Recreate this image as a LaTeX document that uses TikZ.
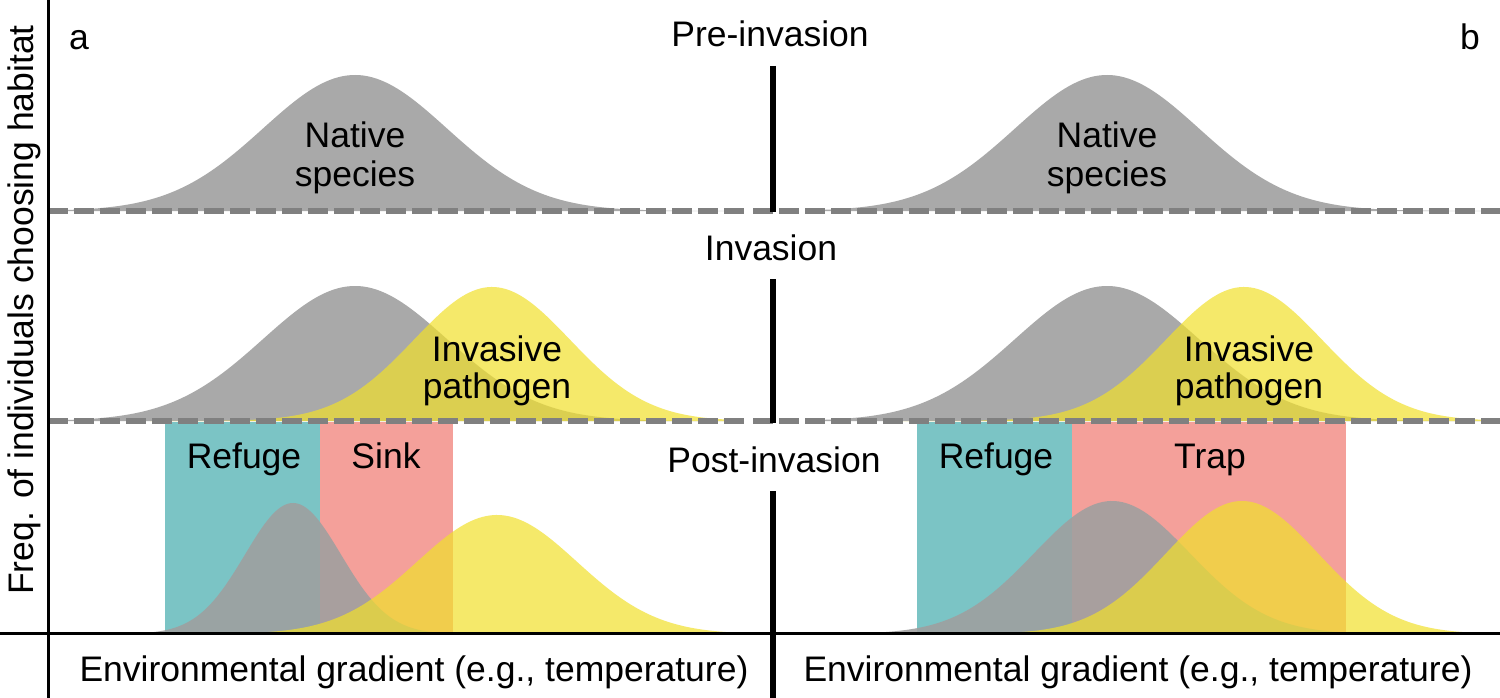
\documentclass[tikz,border=0pt]{standalone}
\usepackage{fontspec}
\setmainfont{Liberation Sans}
\definecolor{natgray}{RGB}{159,159,159}
\definecolor{invyel}{RGB}{241,224,44}
\definecolor{refteal}{RGB}{123,196,197}
\definecolor{sinkpink}{RGB}{244,160,154}
\definecolor{dashgray}{RGB}{128,128,128}
\begin{document}
\begin{tikzpicture}[x=1pt,y=-1pt,
  declare function={bell(\t,\m,\s)=exp(-0.5*((\t-\m)/\s)*((\t-\m)/\s));},
  native/.style={fill=natgray,fill opacity=0.886},
  invader/.style={fill=invyel,fill opacity=0.706},
  refugebox/.style={fill=refteal},
  sinkbox/.style={fill=sinkpink},
  stagerule/.style={draw=dashgray,line width=6pt,dash pattern=on 19.5pt off 6.5pt},
  axisline/.style={draw=black,line width=3pt},
  sepline/.style={draw=black,line width=6pt},
  lbl/.style={font=\fontsize{35.5}{40}\selectfont,anchor=base,inner sep=0pt,text=black}]
\useasboundingbox (0,0) rectangle (1500,698);
\fill[white] (0,0) rectangle (1500,698);
% ---- bottom boxes
\fill[refugebox] (165,422) rectangle (320,634);
\fill[sinkbox] (320,422) rectangle (453,634);
\fill[refugebox] (917,422) rectangle (1072,634);
\fill[sinkbox] (1072,422) rectangle (1346,634);
% ---- top panel curves
\fill[native] (60,211) -- plot[domain=60:740,samples=160] (\x,{211-136*bell(\x,355,92)}) -- (740,211) -- cycle;
\fill[native] (812,211) -- plot[domain=812:1492,samples=160] (\x,{211-136*bell(\x,1107,92)}) -- (1492,211) -- cycle;
% ---- middle panel curves
\fill[native] (60,421) -- plot[domain=60:740,samples=160] (\x,{421-135*bell(\x,355,92)}) -- (740,421) -- cycle;
\fill[invader] (150,421) -- plot[domain=150:740,samples=160] (\x,{421-134*bell(\x,492,78)}) -- (740,421) -- cycle;
\fill[native] (812,421) -- plot[domain=812:1492,samples=160] (\x,{421-135*bell(\x,1107,92)}) -- (1492,421) -- cycle;
\fill[invader] (902,421) -- plot[domain=902:1492,samples=160] (\x,{421-134*bell(\x,1244,78)}) -- (1492,421) -- cycle;
% ---- bottom panel curves
\fill[native] (110,634) -- plot[domain=110:500,samples=160] (\x,{634-131*bell(\x,293,48)}) -- (500,634) -- cycle;
\fill[invader] (180,634) -- plot[domain=180:745,samples=160] (\x,{634-119*bell(\x,497,80)}) -- (745,634) -- cycle;
\fill[native] (800,634) -- plot[domain=800:1450,samples=160] (\x,{634-133*bell(\x,1112,78)}) -- (1450,634) -- cycle;
\fill[invader] (900,634) -- plot[domain=900:1498,samples=160] (\x,{634-133*bell(\x,1242,76)}) -- (1498,634) -- cycle;
% ---- dashed stage lines
\draw[stagerule] (48,211) -- (748,211);
\draw[stagerule] (753,211) -- (1500,211);
\draw[stagerule] (48,421) -- (748,421);
\draw[stagerule] (753,421) -- (1500,421);
% ---- axes
\draw[axisline] (48,0) -- (48,698);
\draw[axisline] (0,633.5) -- (1500,633.5);
\draw[sepline] (772.5,66) -- (772.5,212);
\draw[sepline] (772.5,279) -- (772.5,423);
\draw[sepline] (772.5,491) -- (772.5,698);
% ---- texts
\node[lbl] (pa) at (79,50) {a};
\node[lbl] (pb) at (1470,50) {b};
\node[lbl] (pre) at (770,47) {Pre-invasion};
\node[lbl] (inv) at (771,260) {Invasion};
\node[lbl] (post) at (774,472) {Post-invasion};
\node[lbl] (na1) at (355,148) {Native};
\node[lbl] (na2) at (355,186) {species};
\node[lbl] (nb1) at (1107,148) {Native};
\node[lbl] (nb2) at (1107,186) {species};
\node[lbl] (ia1) at (497,361) {Invasive};
\node[lbl] (ia2) at (497,398) {pathogen};
\node[lbl] (ib1) at (1249,361) {Invasive};
\node[lbl] (ib2) at (1249,398) {pathogen};
\node[lbl] (ra) at (244,468) {Refuge};
\node[lbl] (sa) at (386,468) {Sink};
\node[lbl] (rb) at (996,468) {Refuge};
\node[lbl] (tb) at (1210,468) {Trap};
\node[lbl] (xa) at (414,681) {Environmental gradient (e.g., temperature)};
\node[lbl] (xb) at (1138,681) {Environmental gradient (e.g., temperature)};
\node[lbl,rotate=90] (ylab) at (33,310) {Freq. of individuals choosing habitat};
\end{tikzpicture}
\end{document}
